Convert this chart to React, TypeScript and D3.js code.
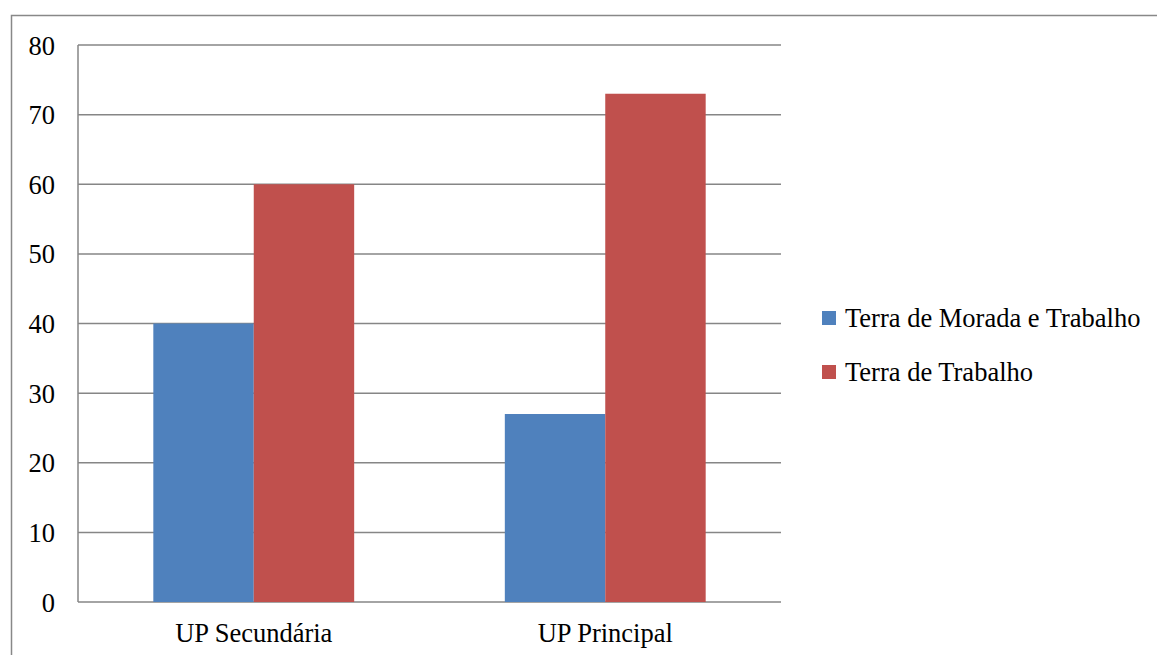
import React from 'react';
import * as d3 from 'd3';

const categories = ['UP Secundária', 'UP Principal'];
const seriesNames = ['Terra de Morada e Trabalho', 'Terra de Trabalho'];
const moradaTrabalho = [40, 27];
const trabalho = [60, 73];
const yTicks = [0, 10, 20, 30, 40, 50, 60, 70, 80];
const colors = ['#4F81BD', '#C0504D'];

export default function App() {
  const width = 1157;
  const height = 655;
  const plot = { left: 78, top: 45, right: 781, bottom: 602 };
  const font = "'Liberation Serif', 'Times New Roman', Times, serif";
  const fs = 26.5;

  const x = d3.scaleBand().domain(categories).range([plot.left, plot.right]).paddingInner(0).paddingOuter(0);
  const y = d3.scaleLinear().domain([0, 80]).range([plot.bottom, plot.top]);
  const series = [moradaTrabalho, trabalho];

  // gap width 150% like the original spreadsheet chart
  const barW = x.bandwidth() / 3.5;

  return (
    <svg width={width} height={height} style={{ position: 'absolute', left: 0, top: 0, background: '#fff' }}>
      <rect x={11.5} y={15.5} width={width + 10} height={height + 10} fill="none" stroke="#888" strokeWidth={1.5} />
      {yTicks.map(t => (
        <g key={t}>
          <line x1={plot.left} x2={plot.right} y1={y(t)} y2={y(t)} stroke="#868686" strokeWidth={1.5} />
          <text x={55} y={y(t) + 9.5} textAnchor="end" fontFamily={font} fontSize={fs} fill="#000">{t}</text>
        </g>
      ))}
      <line x1={plot.left} x2={plot.left} y1={plot.top} y2={plot.bottom} stroke="#868686" strokeWidth={1.5} />
      {categories.map((c, i) => {
        const cx = (x(c) as number) + x.bandwidth() / 2;
        return (
          <g key={c}>
            {series.map((s, j) => (
              <rect key={j} x={cx - barW + j * barW} y={y(s[i])} width={barW} height={y(0) - y(s[i])} fill={colors[j]} />
            ))}
            <text x={cx} y={642} textAnchor="middle" fontFamily={font} fontSize={fs} fill="#000">{c}</text>
          </g>
        );
      })}
      {seriesNames.map((n, j) => (
        <g key={n} transform={`translate(822, ${318 + j * 54})`}>
          <rect x={0} y={-7} width={14} height={14} fill={colors[j]} />
          <text x={23} y={9} fontFamily={font} fontSize={fs} fill="#000">{n}</text>
        </g>
      ))}
    </svg>
  );
}
